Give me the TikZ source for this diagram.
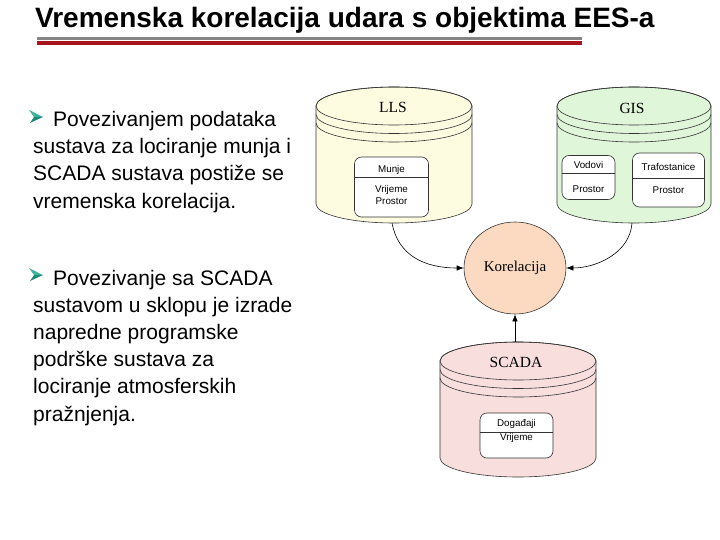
\documentclass[tikz,border=0pt]{standalone}
\usepackage{fontspec}
\setmainfont{Liberation Sans}
\newfontfamily\serifni{Liberation Serif}
\usetikzlibrary{positioning,shapes.geometric,arrows.meta}
\definecolor{llsboja}{HTML}{FDFBE0}
\definecolor{gisboja}{HTML}{DFF6D9}
\definecolor{scadaboja}{HTML}{F9DEDE}
\definecolor{korboja}{HTML}{FBDAC1}
\definecolor{crvena}{HTML}{A8141C}
\definecolor{siva}{HTML}{858585}
\definecolor{strelsvijetla}{HTML}{3DB49C}
\definecolor{streltamna}{HTML}{1F8A76}
\tikzset{
  baza/.style={
    draw = black!80,
    line width = 0.6pt
  },
  kutija/.style={
    draw = black!80,
    line width = 0.6pt,
    fill = white,
    rounded corners = 7pt,
    inner sep = 0pt
  },
  oznaka/.style={
    font = \serifni\fontsize{15.5}{18}\selectfont,
    inner sep = 0pt
  },
  polje/.style={
    font = \fontsize{9.8}{11}\selectfont,
    inner sep = 0pt
  },
  tekst/.style={
    anchor = base west,
    inner sep = 0pt,
    font = \fontsize{21}{27}\selectfont
  },
  veza/.style={
    -{Latex[length=7pt, width=5.5pt]},
    line width = 0.6pt
  },
}
% baza podataka: x sredine, y vrha, y dna, rx, ry, boja
\newcommand{\cilindar}[6]{%
  \filldraw[baza, fill=#6] ({#1-#4},#2) -- ({#1-#4},#3)
    arc[start angle=180, end angle=0, x radius=#4, y radius=#5] -- ({#1+#4},#2)
    arc[start angle=0, end angle=-180, x radius=#4, y radius=#5] -- cycle;
  \draw[baza] (#1,#2) ellipse[x radius=#4, y radius=#5];
  \foreach \d in {8.5,17}
    \draw[baza] ({#1-#4},{#2+\d}) arc[start angle=180, end angle=0, x radius=#4, y radius=#5];
}

\begin{document}
\begin{tikzpicture}[x=1pt, y=-1pt]
\useasboundingbox (0,0) rectangle (720,540);

% naslov
\node[anchor=base west, inner sep=0pt, font=\bfseries\fontsize{28}{30}\selectfont] (naslov) at (35,28) {Vremenska korelacija udara s objektima EES-a};
\fill[siva] (37,37) rectangle (582,40);
\fill[crvena] (37,41) rectangle (582,45);

% tekst lijevo
\foreach \y in {117,275}{
  \fill[strelsvijetla] (29,{\y-7}) -- (43,\y) -- (34,\y) -- cycle;
  \fill[streltamna] (43,\y) -- (30,{\y+6}) -- (34,\y) -- cycle;
}
\node[tekst] (p1) at (53,127) {Povezivanjem podataka};
\foreach \i/\t in {1/{sustava za lociranje munja i},2/{SCADA sustava postiže se},3/{vremenska korelacija.}}
  \node[tekst] (p1-\i) at (33,{127+27*\i}) {\t};
\node[tekst] (p2) at (53,285) {Povezivanje sa SCADA};
\foreach \i/\t in {1/{sustavom u sklopu je izrade},2/{napredne programske},3/{podrške sustava za},4/{lociranje atmosferskih},5/{pražnjenja.}}
  \node[tekst] (p2-\i) at (33,{285+27.2*\i}) {\t};

% LLS
\cilindar{394}{106}{204}{78}{19}{llsboja}
\node[oznaka] (lls) at (393,107) {LLS};
\node[kutija, minimum width=74pt, minimum height=60pt] (munje) at (391.5,187) {};
\draw[baza] (munje.west |- 0,177) -- (munje.east |- 0,177);
\node[polje] (munje-1) at (391.5,170) {Munje};
\node[polje] (munje-2) at (391.5,190) {Vrijeme};
\node[polje] (munje-3) at (391.5,201.5) {Prostor};
\coordinate (lls-dno) at (392,223);

% GIS
\cilindar{634}{106}{204}{77}{19}{gisboja}
\node[oznaka] (gis) at (632,108) {GIS};
\node[kutija, minimum width=53pt, minimum height=44pt] (vodovi) at (588.5,177.5) {};
\draw[baza] (vodovi.west |- 0,173) -- (vodovi.east |- 0,173);
\node[polje] (vodovi-1) at (588.5,164.5) {Vodovi};
\node[polje] (vodovi-2) at (588.5,189) {Prostor};
\node[kutija, minimum width=72pt, minimum height=54pt] (trafo) at (668.5,180) {};
\draw[baza] (trafo.west |- 0,178) -- (trafo.east |- 0,178);
\node[polje] (trafo-1) at (668.5,167) {Trafostanice};
\node[polje] (trafo-2) at (668.5,190.5) {Prostor};
\coordinate (gis-dno) at (632,223);

% SCADA
\cilindar{518}{361}{458}{78}{19}{scadaboja}
\node[oznaka] (scada) at (516,362) {SCADA};
\node[kutija, minimum width=73pt, minimum height=45pt] (dogadaji) at (516.5,435.5) {};
\draw[baza] (dogadaji.west |- 0,432) -- (dogadaji.east |- 0,432);
\node[polje] (dogadaji-1) at (516.5,423.5) {Događaji};
\node[polje] (dogadaji-2) at (516.5,438) {Vrijeme};
\coordinate (scada-vrh) at (515,342);

% korelacija
\node[ellipse, baza, fill=korboja, minimum width=102pt, minimum height=92pt, inner sep=0pt,
      font=\serifni\fontsize{15}{18}\selectfont] (kor) at (515,268) {Korelacija};

\draw[veza] (lls-dno) .. controls +(6,32) and +(-40,0) .. (kor.west);
\draw[veza] (gis-dno) .. controls +(-2,30) and +(30,0) .. (kor.east);
\draw[veza] (scada-vrh) -- (kor.south);
\end{tikzpicture}
\end{document}
